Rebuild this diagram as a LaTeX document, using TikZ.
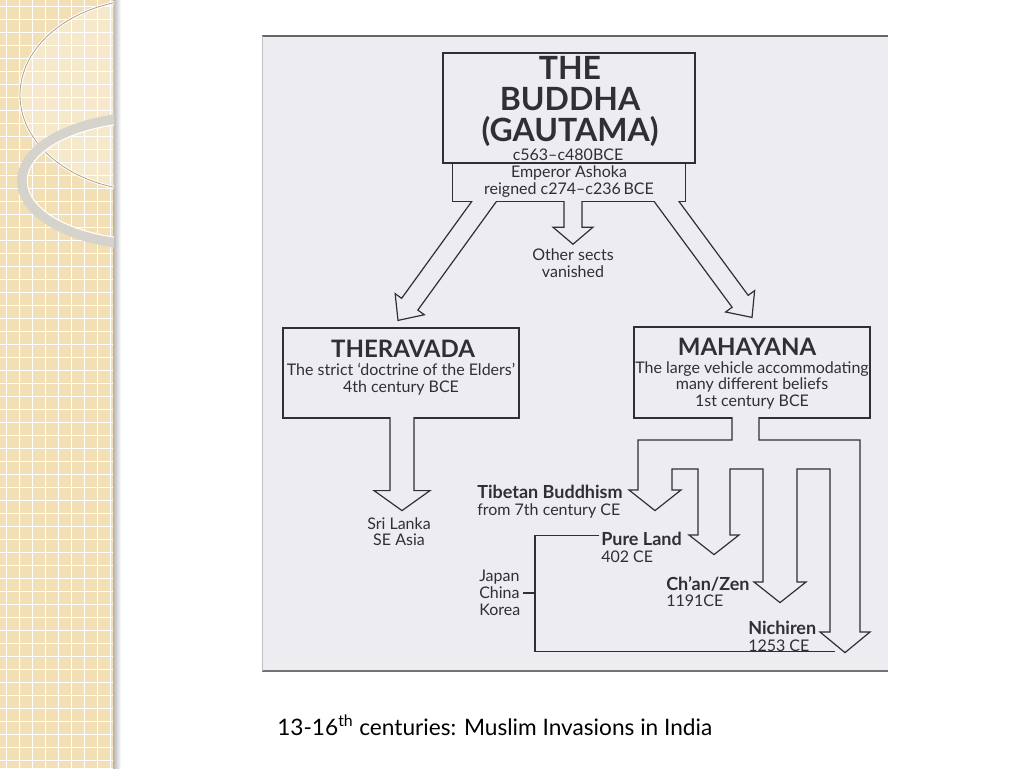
\documentclass[tikz,border=0pt]{standalone}
\usepackage{fontspec}
\setmainfont{Lato}
\usetikzlibrary{calc,positioning}

\definecolor{panel}{RGB}{243,223,181}
\definecolor{scanbg}{RGB}{236,236,241}
\definecolor{scanink}{RGB}{48,48,52}
\definecolor{ringgray}{RGB}{214,211,205}
\definecolor{ringbrown}{RGB}{176,160,130}

\tikzstyle{sectbox}=[draw=scanink, line width=0.9pt, inner sep=0pt]
\tikzstyle{fatline}=[draw=scanink, line width=0.9pt, fill=scanbg]
\tikzstyle{thinline}=[draw=scanink, line width=0.8pt]
\tikzstyle{bigtxt}=[text=scanink, align=center, font=\bfseries\fontsize{24}{23.3}\selectfont]
\tikzstyle{headtxt}=[text=scanink, font=\bfseries\fontsize{18}{18}\selectfont]
\tikzstyle{bodytxt}=[text=scanink, align=center, font=\fontsize{12}{12.6}\selectfont]
\tikzstyle{lbl}=[bodytxt, align=left, anchor=west, inner sep=1.5pt]

\newcommand{\boxNode}[3]{node (#1) [sectbox, minimum width=#2, minimum height=#3] {}}
\newcommand{\lblHead}[1]{{\fontsize{13.5}{12.6}\selectfont\bfseries #1}}
% hollow arrow: start, tip, half shaft, half head, head length
\newcommand{\fatArrow}[5]{%
	\coordinate (fa-h) at ($(#2)!#5!(#1)$);
	\filldraw[fatline] ($(#1)!#3!90:(#2)$) -- ($(fa-h)!#3!90:(#2)$)
		-- ($(fa-h)!#4!90:(#2)$) -- (#2) -- ($(fa-h)!#4!-90:(#2)$)
		-- ($(fa-h)!#3!-90:(#2)$) -- ($(#1)!#3!-90:(#2)$) -- cycle;}

\begin{document}
\begin{tikzpicture}[x=0.75pt, y=-0.75pt]
	\useasboundingbox (0,0) rectangle (1024,768);

	% slide background
	\fill[white] (0,0) rectangle (1024,768);
	\fill[panel] (0,0) rectangle (113,768);
	\foreach \x in {6.5,19.5,...,112} \draw[white, line width=0.9pt] (\x,0) -- (\x,768);
	\foreach \y in {6.5,19.5,...,768} \draw[white, line width=0.9pt] (0,\y) -- (113,\y);
	\shade[left color=black!30, right color=white] (113,0) rectangle (121,768);
	\begin{scope}
		\clip (0,0) rectangle (114,768);
		\fill[white, opacity=0.3] (150,95) ellipse [x radius=97.5pt, y radius=72pt];
		\draw[white, line width=2.2pt] (150,95) ellipse [x radius=97.5pt, y radius=72pt];
		\draw[ringbrown, line width=0.6pt] (150,95) ellipse [x radius=97.5pt, y radius=72pt];
		\draw[ringgray, line width=7.5pt] (150,181) ellipse [x radius=96pt, y radius=48pt];
		\draw[white, line width=0.8pt] (150,181) ellipse [x radius=92pt, y radius=44pt];
	\end{scope}

	% scanned page
	\fill[scanbg] (262,36) rectangle (888,672);
	\draw[black!60, line width=1pt] (262,36) -- (888,36);
	\draw[black!55, line width=1.2pt] (262,671) -- (888,671);
	\draw[black!25] (262,36) -- (262,671);

	% boxes
	\path (569,108) \boxNode{buddha}{189pt}{82.5pt};
	\path (buddha.south)+(0,19) \boxNode{ashoka}{174.75pt}{28.5pt};
	\path (401,373) \boxNode{thera}{177pt}{67.5pt};
	\path (752,372.5) \boxNode{maha}{177pt}{68.25pt};

	\path (buddha.north)+(1,49) node (title) [bigtxt] {THE\\BUDDHA\\(GAUTAMA)};
	\path (buddha.south)+(-1,-9) node (dates) [bodytxt] {c563–c480BCE};
	\path (ashoka.center)+(0,-1) node (emperor) [bodytxt] {Emperor Ashoka\\reigned c274–c236\,BCE};
	\path (thera.north)+(2,21) node (theraT) [headtxt] {THERAVADA};
	\path (thera.north)+(0,52) node (theraD) [bodytxt] {The strict ‘doctrine of the Elders’\\4th century BCE};
	\path (maha.north)+(-5,20) node (mahaT) [headtxt] {MAHAYANA};
	\path (maha.north)+(0,59) node (mahaD) [bodytxt] {The large vehicle accommodating\\many different beliefs\\1st century BCE};

	% arrows out of the top box
	\coordinate (lfrom) at ($(ashoka.south)+(-77.5,-11)$);
	\coordinate (lto) at ($(thera.north)+(-3,-7)$);
	\coordinate (mfrom) at ($(ashoka.south)+(4,-11)$);
	\coordinate (mto) at ($(ashoka.south)+(4,42)$);
	\coordinate (rfrom) at ($(ashoka.south)+(90,-11)$);
	\coordinate (rto) at ($(maha.north)+(0,-9)$);
	\begin{scope}
		\clip (ashoka.south west) ++(-150,-0.8) rectangle (888,672);
		\fatArrow{lfrom}{lto}{7.5pt}{13.5pt}{15pt}
		\fatArrow{mfrom}{mto}{6.75pt}{15pt}{12.75pt}
		\fatArrow{rfrom}{rto}{7.5pt}{13.5pt}{15pt}
	\end{scope}
	\path (mto)+(0,19) node (other) [bodytxt] {Other sects\\vanished};

	% Theravada
	\coordinate (tfrom) at ($(thera.south)+(1,-8)$);
	\coordinate (tto) at ($(thera.south)+(1,92)$);
	\begin{scope}
		\clip (thera.south west) ++(-10,-0.8) rectangle (600,672);
		\fatArrow{tfrom}{tto}{9pt}{21pt}{15pt}
	\end{scope}
	\path (tto)+(-3,21) node (srilanka) [bodytxt] {Sri Lanka\\SE Asia};

	% Mahayana branches
	\coordinate (mstart) at ($(maha.south)+(-20,-8)$);
	\coordinate (mend) at ($(maha.south)+(7,-8)$);
	\coordinate (tib) at ($(maha.south)+(-97,92)$);
	\coordinate (pure) at ($(maha.south)+(-38,136)$);
	\coordinate (chan) at ($(maha.south)+(28,184)$);
	\coordinate (nich) at ($(maha.south)+(93,234)$);
	\begin{scope}
		\clip (maha.south west) ++(-140,-0.8) rectangle (888,672);
		\filldraw[fatline] (mstart) -- (732,440) -- (638,440) -- (638,490) -- (629,490) -- (tib)
			-- (681,490) -- (672,490) -- (672,469) -- (698,469) -- (698,535) -- (689,535) -- (pure)
			-- (739,535) -- (730,535) -- (730,469) -- (763,469) -- (763,582) -- (754,582) -- (chan)
			-- (806,582) -- (797,582) -- (797,469) -- (830,469) -- (830,632) -- (820,632) -- (nich)
			-- (870,632) -- (860,632) -- (860,440) -- (759,440) -- (mend) -- cycle;
	\end{scope}

	\path (tib)+(-180,-9) node (tibetan) [lbl] {\lblHead{Tibetan Buddhism}\\from 7th century CE};
	\path (pure)+(-115,-7.5) node (pureland) [lbl] {\lblHead{Pure Land}\\402 CE};
	\path (chan)+(-116,-11) node (chanzen) [lbl] {\lblHead{Ch’an/Zen}\\1191CE};
	\path (nich)+(-99,-16) node (nichiren) [lbl] {\lblHead{Nichiren}\\1253 CE};
	\path (477,593) node (regions) [lbl] {Japan\\China\\Korea};

	\coordinate (brTop) at ($(pure)+(-179,-19)$);
	\coordinate (brBot) at ($(nich)+(-310,-1)$);
	\coordinate (brEnd) at ($(nich)+(-10,-1)$);
	\draw[thinline] (pureland.west |- brTop) -- (brTop) -- (brBot) -- (brEnd);
	\draw[thinline] (regions.east) -- (regions.east -| brTop);

	% caption
	\path (277,735) node (caption) [anchor=base west, inner sep=0pt, font=\fontsize{17}{20}\selectfont]
		{13-16\textsuperscript{th} centuries: Muslim Invasions in India};
\end{tikzpicture}
\end{document}
